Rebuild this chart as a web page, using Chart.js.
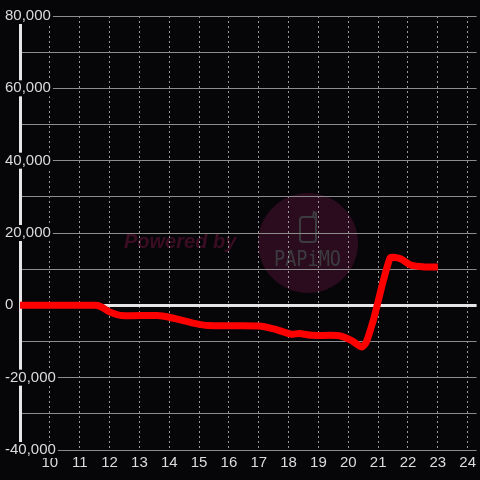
<!DOCTYPE html>
<html>
<head>
<meta charset="utf-8">
<script src="https://cdn.jsdelivr.net/npm/chart.js@4.4.1/dist/chart.umd.min.js"></script>
<style>
  html, body { margin: 0; padding: 0; background: #060508; }
  #wrap { width: 480px; height: 480px; }
</style>
</head>
<body>
<div id="wrap"><canvas id="c" width="480" height="480"></canvas></div>
<script>
// ---- data ----
const hours = [9.0, 11.5, 11.7, 12.0, 12.4, 13.6, 14.0, 14.8, 15.3, 17.0, 17.5, 18.1, 18.35, 18.8, 19.7, 20.1, 20.45, 20.6, 20.83, 21.0, 21.17, 21.4, 21.5, 21.77, 22.1, 22.57, 23.0];
const values = [0, 0, -300, -1800, -2800, -2800, -3300, -4900, -5600, -5700, -6500, -8000, -7800, -8300, -8400, -9700, -11500, -10200, -4400, 1100, 6700, 13100, 13300, 12800, 11100, 10600, 10600];
const xTicks = [10, 11, 12, 13, 14, 15, 16, 17, 18, 19, 20, 21, 22, 23, 24];
const yLabelValues = [80000, 60000, 40000, 20000, 0, -20000, -40000];
const watermarkText = "Powered by";
const logoText = "PAPiMO";

const BG = '#060508';

const bgPlugin = {
  id: 'bgWatermark',
  beforeDraw(chart) {
    const ctx = chart.ctx;
    ctx.save();
    ctx.fillStyle = BG;
    ctx.fillRect(0, 0, chart.width, chart.height);
    // watermark circle
    ctx.fillStyle = '#2b0c1e';
    ctx.beginPath();
    ctx.arc(308, 243, 50, 0, Math.PI * 2);
    ctx.fill();
    // phone icon
    ctx.strokeStyle = '#3c3c40';
    ctx.lineWidth = 2;
    ctx.beginPath();
    if (ctx.roundRect) ctx.roundRect(300, 217, 16, 25, 3); else ctx.rect(300, 217, 16, 25);
    ctx.stroke();
    ctx.beginPath();
    ctx.moveTo(313, 217);
    ctx.lineTo(314, 212);
    ctx.lineTo(316, 213);
    ctx.lineTo(316, 219);
    ctx.stroke();
    // logo text
    ctx.fillStyle = '#3c3c40';
    ctx.font = "22px 'DejaVu Sans Mono'";
    ctx.textBaseline = 'alphabetic';
    ctx.textAlign = 'left';
    ctx.fillText(logoText, 274, 266, 67);
    // powered by
    ctx.fillStyle = '#3a0d22';
    ctx.font = "italic bold 20px 'Liberation Sans'";
    ctx.fillText(watermarkText, 124, 248, 114);
    ctx.restore();
  }
};

new Chart(document.getElementById('c'), {
  type: 'line',
  data: {
    datasets: [{
      data: hours.map((h, i) => ({ x: h, y: values[i] })),
      borderColor: '#ff0000',
      borderWidth: 7,
      pointRadius: 0,
      tension: 0.25,
      fill: false,
      clip: false
    }]
  },
  options: {
    responsive: false,
    animation: false,
    events: [],
    layout: { padding: { left: 5, top: 16, right: 0, bottom: 4 } },
    plugins: { legend: { display: false }, tooltip: { enabled: false } },
    scales: {
      x: {
        type: 'linear',
        min: 9,
        max: 24.3,
        afterBuildTicks: (scale) => { scale.ticks = xTicks.map(v => ({ value: v })); },
        ticks: {
          color: '#dcdcdc',
          font: { family: "'Liberation Sans', Arial, sans-serif", size: 15 },
          padding: 4,
          maxRotation: 0,
          autoSkip: false
        },
        grid: { color: '#9a9a9a', lineWidth: 1, drawTicks: false },
        border: { display: false, dash: [2, 3] }
      },
      y: {
        type: 'linear',
        min: -40000,
        max: 80000,
        afterFit: (scale) => { scale.width = 15; },
        ticks: {
          stepSize: 10000,
          mirror: true,
          crossAlign: 'near',
          padding: -15,
          color: '#dcdcdc',
          font: { family: "'Liberation Sans', Arial, sans-serif", size: 15, lineHeight: 16 / 15 },
          showLabelBackdrop: true,
          backdropColor: (ctx) => yLabelValues.includes(ctx.tick.value) ? BG : 'rgba(0,0,0,0)',
          backdropPadding: { top: 0, bottom: 0, left: 2, right: 2 },
          callback: (v) => yLabelValues.includes(v) ? v.toLocaleString('en-US') : ''
        },
        grid: {
          drawTicks: false,
          color: (ctx) => ctx.tick && ctx.tick.value === 0 ? '#e6e6e6' : '#8c8c8c',
          lineWidth: (ctx) => ctx.tick && ctx.tick.value === 0 ? 3 : 1
        },
        border: { display: true, color: '#e6e6e6', width: 3 }
      }
    }
  },
  plugins: [bgPlugin]
});
</script>
</body>
</html>
